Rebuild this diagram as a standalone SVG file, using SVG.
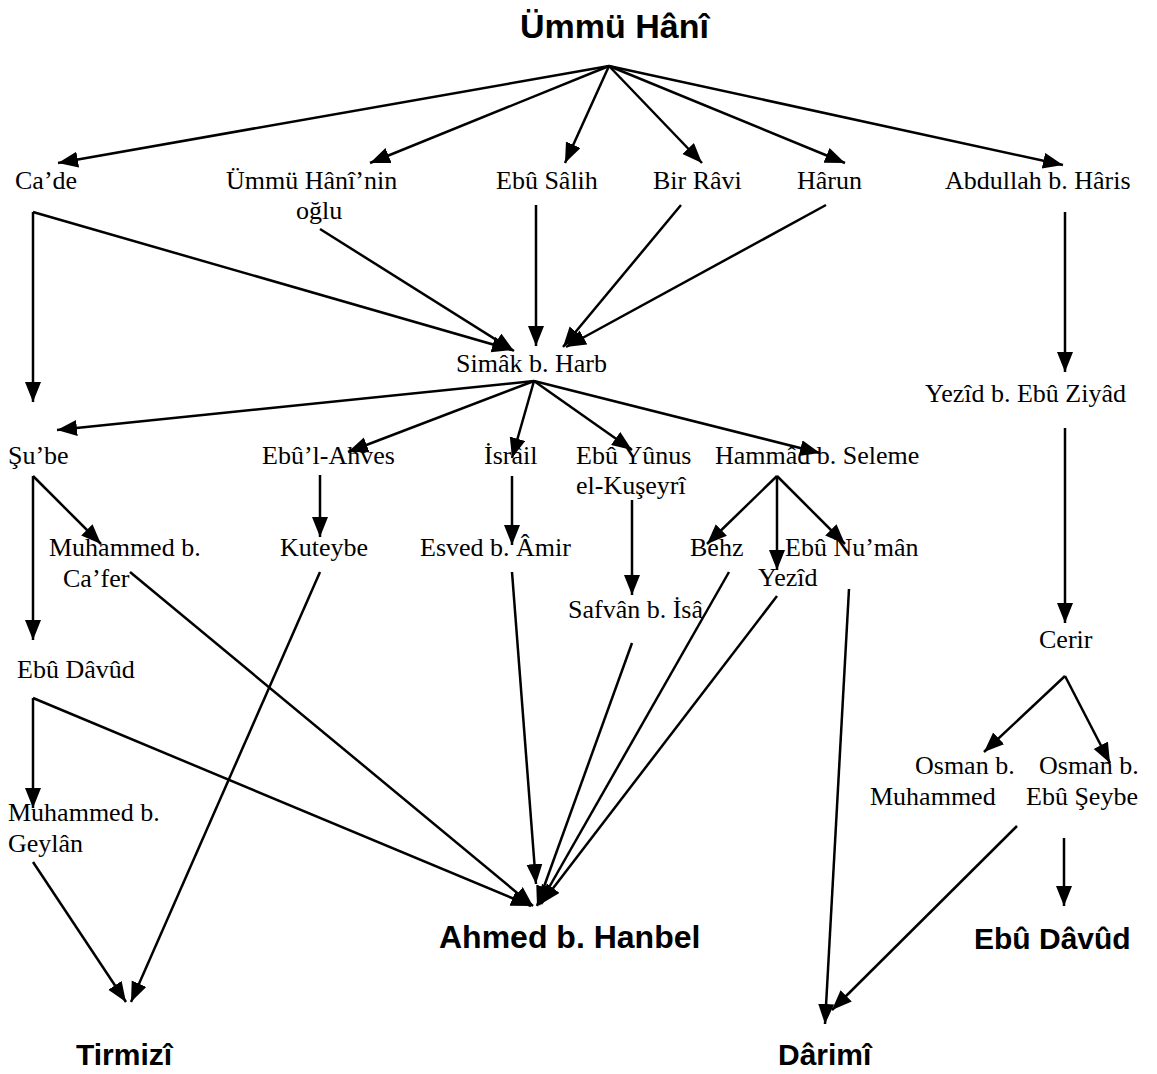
<svg xmlns="http://www.w3.org/2000/svg" width="1157" height="1074" viewBox="0 0 1157 1074">
<style>
text{font-family:"Liberation Serif","Times New Roman",serif;font-size:26px;fill:#000}
text.b{font-family:"Liberation Sans",Arial,sans-serif;font-weight:bold}
.c line,.c polyline{stroke:#000;stroke-width:2.5;fill:none}
.c .a{marker-end:url(#ah)}
</style>
<defs>
<marker id="ah" markerUnits="userSpaceOnUse" markerWidth="22" markerHeight="18" refX="20" refY="8" orient="auto">
<path d="M0,0 L20,8 L0,16 z" fill="#000"/>
</marker>
</defs>
<rect width="1157" height="1074" fill="#fff"/>
<g class="c" id="connectors">
<line class="a" x1="609" y1="66" x2="58" y2="163"/>
<line class="a" x1="609" y1="66" x2="370" y2="163"/>
<line class="a" x1="609" y1="66" x2="565" y2="163"/>
<line class="a" x1="609" y1="66" x2="702" y2="163"/>
<line class="a" x1="609" y1="66" x2="845" y2="163"/>
<line class="a" x1="609" y1="66" x2="1063" y2="165"/>
<line class="a" x1="33" y1="212" x2="512" y2="350"/>
<line class="a" x1="33" y1="212" x2="33" y2="402"/>
<line class="a" x1="320" y1="229" x2="514" y2="351"/>
<line class="a" x1="536" y1="205" x2="536" y2="346"/>
<line class="a" x1="681" y1="205" x2="563" y2="347"/>
<line class="a" x1="826" y1="205" x2="566" y2="347"/>
<line class="a" x1="534" y1="381" x2="57" y2="430"/>
<line class="a" x1="534" y1="381" x2="348" y2="452"/>
<line class="a" x1="534" y1="381" x2="512" y2="458"/>
<line class="a" x1="534" y1="381" x2="632" y2="450"/>
<line class="a" x1="534" y1="381" x2="820" y2="453"/>
<line class="a" x1="33" y1="476" x2="33" y2="640"/>
<line class="a" x1="33" y1="476" x2="101" y2="544"/>
<line class="a" x1="320" y1="475" x2="320" y2="537"/>
<line class="a" x1="512" y1="476" x2="512" y2="545"/>
<line class="a" x1="632" y1="500" x2="632" y2="595"/>
<line class="a" x1="777" y1="476" x2="707" y2="544"/>
<line class="a" x1="777" y1="476" x2="777" y2="570"/>
<line class="a" x1="777" y1="476" x2="845" y2="544"/>
<line class="a" x1="33" y1="698" x2="33" y2="808"/>
<line class="a" x1="33" y1="698" x2="531" y2="906"/>
<line class="a" x1="130" y1="572" x2="533" y2="906"/>
<line class="a" x1="512" y1="572" x2="536" y2="884"/>
<line class="a" x1="632" y1="643" x2="537" y2="906"/>
<line class="a" x1="729" y1="572" x2="539" y2="905"/>
<line class="a" x1="777" y1="596" x2="541" y2="904"/>
<line class="a" x1="320" y1="572" x2="131" y2="1002"/>
<line class="a" x1="33" y1="862" x2="126" y2="1002"/>
<line class="a" x1="849" y1="589" x2="825" y2="1024"/>
<line class="a" x1="1017" y1="826" x2="832" y2="1010"/>
<line class="a" x1="1064" y1="838" x2="1064" y2="906"/>
<line class="a" x1="1065" y1="212" x2="1065" y2="372"/>
<line class="a" x1="1065" y1="428" x2="1065" y2="623"/>
<line class="a" x1="1065" y1="676" x2="984" y2="752"/>
<line class="a" x1="1065" y1="676" x2="1110" y2="763"/>
</g>
<g id="n-ummuhani"><text class="b" x="520" y="38" style="font-size:34px">Ümmü Hânî</text></g>
<g id="n-cade"><text x="15" y="189">Ca’de</text></g>
<g id="n-ogul"><text x="226" y="189">Ümmü Hânî’nin</text><text x="296" y="219">oğlu</text></g>
<g id="n-ebusalih"><text x="496" y="189">Ebû Sâlih</text></g>
<g id="n-birravi"><text x="653" y="189">Bir Râvi</text></g>
<g id="n-harun"><text x="797" y="189">Hârun</text></g>
<g id="n-abdullah"><text x="945" y="189">Abdullah b. Hâris</text></g>
<g id="n-simak"><text x="456" y="372">Simâk b. Harb</text></g>
<g id="n-yezidziyad"><text x="925" y="402">Yezîd b. Ebû Ziyâd</text></g>
<g id="n-sube"><text x="8" y="464">Şu’be</text></g>
<g id="n-ahves"><text x="262" y="464">Ebû’l-Ahves</text></g>
<g id="n-israil"><text x="484" y="464">İsrâil</text></g>
<g id="n-ebuyunus"><text x="576" y="464">Ebû Yûnus</text><text x="576" y="494">el-Kuşeyrî</text></g>
<g id="n-hammad"><text x="715" y="464">Hammâd b. Seleme</text></g>
<g id="n-mcafer"><text x="49" y="556">Muhammed b.</text><text x="63" y="587">Ca’fer</text></g>
<g id="n-kuteybe"><text x="280" y="556">Kuteybe</text></g>
<g id="n-esved"><text x="420" y="556">Esved b. Âmir</text></g>
<g id="n-behz"><text x="690" y="556">Behz</text></g>
<g id="n-ebunuman"><text x="785" y="556">Ebû Nu’mân</text></g>
<g id="n-yezid"><text x="758" y="586">Yezîd</text></g>
<g id="n-safvan"><text x="568" y="618">Safvân b. İsâ</text></g>
<g id="n-cerir"><text x="1039" y="648">Cerir</text></g>
<g id="n-ebudavud1"><text x="17" y="678">Ebû Dâvûd</text></g>
<g id="n-osmanm"><text x="915" y="774">Osman b.</text><text x="870" y="805">Muhammed</text></g>
<g id="n-osmans"><text x="1039" y="774">Osman b.</text><text x="1026" y="805">Ebû Şeybe</text></g>
<g id="n-mgeylan"><text x="8" y="821">Muhammed b.</text><text x="8" y="852">Geylân</text></g>
<g id="n-ahmed"><text class="b" x="439" y="948" style="font-size:32px">Ahmed b. Hanbel</text></g>
<g id="n-ebudavud2"><text class="b" x="974" y="949" style="font-size:30px">Ebû Dâvûd</text></g>
<g id="n-tirmizi"><text class="b" x="76" y="1065" style="font-size:30px">Tirmizî</text></g>
<g id="n-darimi"><text class="b" x="778" y="1065" style="font-size:30px">Dârimî</text></g>
</svg>
